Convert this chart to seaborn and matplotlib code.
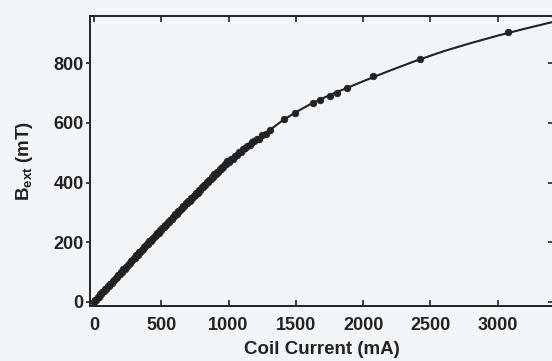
import matplotlib
matplotlib.use("Agg")
import matplotlib.pyplot as plt
import seaborn as sns
import pandas as pd

# measured points (coil current in mA, field in mT)
meas_current = [0, 8, 18, 27, 35, 46, 55, 63, 74, 83, 92, 103, 112, 121, 132, 141,
                150, 161, 170, 179, 190, 199, 208, 219, 228, 237, 248, 257, 266,
                277, 286, 295, 306, 315, 324, 335, 344, 353, 364, 373, 382, 393,
                402, 411, 422, 431, 440, 451, 460, 469, 480, 489, 498, 509, 518,
                527, 538, 547, 556, 567, 576, 585, 596, 605, 614, 625, 634, 643,
                654, 663, 672, 683, 692, 701, 712, 721, 730, 741, 750, 759, 770,
                779, 788, 799, 808, 817, 828, 837, 846, 857, 866, 875, 886, 895,
                904, 915, 924, 933, 944, 953, 962, 973, 982, 991, 1002, 1015, 1030,
                1046, 1060, 1075, 1092, 1108, 1125, 1140, 1158, 1175, 1192, 1210,
                1230, 1252, 1278, 1306, 1410, 1492, 1626, 1678, 1752, 1804, 1879,
                2072, 2421, 3076]
meas_field = [0, 6, 7, 16, 15, 25, 25, 33, 35, 42, 44, 52, 54, 61, 63, 71,
              72, 80, 82, 89, 92, 99, 101, 109, 110, 118, 120, 128, 129,
              137, 139, 146, 148, 156, 157, 166, 167, 174, 177, 184, 186, 194,
              195, 203, 204, 212, 213, 222, 223, 230, 232, 240, 241, 249, 250,
              258, 259, 267, 268, 276, 278, 285, 287, 294, 295, 304, 304, 312,
              314, 321, 322, 331, 331, 338, 339, 347, 348, 356, 357, 365, 366,
              374, 375, 384, 384, 392, 393, 401, 402, 410, 411, 419, 420, 428,
              428, 437, 437, 445, 446, 454, 454, 463, 463, 471, 470, 478, 480,
              488, 492, 501, 504, 512, 515, 523, 527, 535, 538, 546,
              547, 559, 563, 576, 613, 633, 667, 677, 690, 700, 717,
              757, 814, 905]

# smooth calibration curve through the data
fit_current = [0, 100, 200, 300, 400, 500, 600, 700, 800, 900, 1000, 1100, 1200,
               1300, 1400, 1500, 1600, 1700, 1800, 1900, 2000, 2200, 2400, 2600,
               2800, 3000, 3200, 3420]
fit_field = [0, 50, 99, 148, 196, 243, 290, 336, 383, 428, 472, 508, 542,
             574, 608, 636, 661, 683, 703, 721, 740, 776, 810, 841,
             868, 893, 916, 940]

x_ticks = [0, 500, 1000, 1500, 2000, 2500, 3000]
y_ticks = [0, 200, 400, 600, 800]

bg = "#f3f6f8"
ink = "#222222"

sns.set_theme(style="ticks")
plt.rcParams['font.family'] = ['Liberation Sans', 'DejaVu Sans']
plt.rcParams['font.weight'] = 'bold'
plt.rcParams['axes.labelweight'] = 'bold'
plt.rcParams['mathtext.fontset'] = 'custom'
plt.rcParams['mathtext.rm'] = 'Liberation Sans:bold'
plt.rcParams['mathtext.it'] = 'Liberation Sans:bold'
plt.rcParams['mathtext.bf'] = 'Liberation Sans:bold'

meas = pd.DataFrame({'current': meas_current, 'field': meas_field})
fit = pd.DataFrame({'current': fit_current, 'field': fit_field})

fig = plt.figure(figsize=(5.52, 3.61), dpi=100, facecolor=bg)
ax = fig.add_axes([0.163, 0.1524, 0.8406, 0.8033])
ax.set_facecolor(bg)

sns.lineplot(data=fit, x='current', y='field', ax=ax, color=ink, lw=1.5,
             sort=False)
sns.scatterplot(data=meas, x='current', y='field', ax=ax, color=ink, s=22,
                marker='o', edgecolor=ink, linewidth=0.6, zorder=3)

ax.set_xlim(-30, 3419)
ax.set_ylim(-14, 959)
ax.set_xticks(x_ticks)
ax.set_yticks(y_ticks)

for sp in ax.spines.values():
    sp.set_linewidth(1.4)
    sp.set_color(ink)

ax.tick_params(axis='x', which='major', direction='in', length=4.5, width=1.2,
               top=True, pad=8, labelsize=13, colors=ink)
ax.tick_params(axis='y', which='major', direction='out', length=3, width=1.2,
               pad=1.5, labelsize=13, colors=ink)

# inward ticks on the right side
ax2 = ax.secondary_yaxis('right')
ax2.set_yticks(y_ticks)
ax2.tick_params(direction='in', length=4, width=1.2, labelright=False)
ax2.spines['right'].set_linewidth(1.4)

ax.set_xlabel('Coil Current (mA)', fontsize=13.5, color=ink, labelpad=5)
ax.set_ylabel(r'B$_{\mathrm{ext}}$ (mT)', fontsize=13.5, color=ink, labelpad=13)

fig.savefig('out.png', dpi=100, facecolor=bg)
